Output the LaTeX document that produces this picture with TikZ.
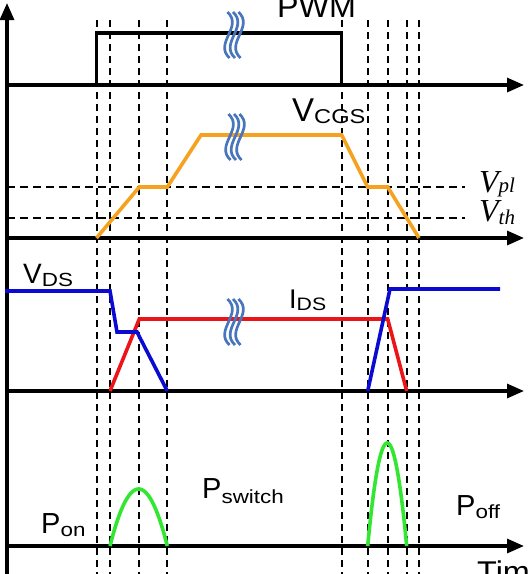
\documentclass[tikz,border=0pt]{standalone}
\usepackage{graphicx}
\usepackage{fontspec}
\setmainfont{Liberation Sans}
\newfontfamily\serifit{Liberation Serif}
\usetikzlibrary{arrows.meta}
\definecolor{cOrange}{RGB}{245,162,32}
\definecolor{cBlue}{RGB}{10,10,210}
\definecolor{cRed}{RGB}{235,20,25}
\definecolor{cGreen}{RGB}{50,230,50}
\definecolor{cWave}{RGB}{72,118,188}
\newcommand\fs[1]{\fontsize{#1}{#1}\selectfont}
\newcommand\subtxt[3]{\raisebox{#1}{\scalebox{1.18}[1]{\fs{#2}#3}}}
\newcommand\breakwave[2]{%
  \foreach \d in {-5.5,0,5.5}{%
    \draw[wavestroke] ({#1+\d-1},{#2-23}) .. controls ({#1+\d+15},{#2-8}) and ({#1+\d-15},{#2+8}) .. ({#1+\d+1},{#2+23});}}
\begin{document}
\begin{tikzpicture}[x=1pt,y=-1pt,
  axis/.style={line width=3.2pt,-{Triangle[length=17pt,width=14pt]}},
  guide/.style={line width=2pt,dash pattern=on 7pt off 5pt},
  level/.style={line width=1.4pt,dash pattern=on 8pt off 5pt},
  sigline/.style={line width=3.6pt},
  wavestroke/.style={line width=2.7pt,cWave},
  lbl/.style={anchor=base west,inner sep=0pt}]
\useasboundingbox (0,0) rectangle (528,574);
% vertical guides
\foreach \x in {96.5,110,139.3,167.3,341.7,367.7,387.7,406.7,419}
  \draw[guide] (\x,20) -- (\x,580);
% level lines
\draw[level] (7,187) -- (465,187);
\draw[level] (7,218) -- (465,218);
% axes
\draw[axis] (7,580) -- (7,3);
\foreach \y in {85,238,391,546}
  \draw[axis] (5,\y) -- (524,\y);
% PWM
\draw[line width=3.2pt,line join=miter] (96.5,85) -- (96.5,33) -- (341.7,33) -- (341.7,85);
% VCGS
\draw[sigline,cOrange] (96.5,238) -- (139.3,187) -- (167.3,187) -- (201,135) -- (341.7,135) -- (367.7,187) -- (387.7,187) -- (419,238);
% IDS
\draw[sigline,cRed] (110,391) -- (139.3,319) -- (387.7,319) -- (406.7,391);
% VDS
\draw[sigline,cBlue] (5,291) -- (110,291) -- (117,332) -- (137,332) -- (167.3,391);
\draw[sigline,cBlue] (367.7,391) -- (390,289) -- (500,289);
% power
\draw[sigline,cGreen] plot[domain=110:167.3,samples=50] (\x,{546-57*(1-((\x-138.65)/28.65)^2)});
\draw[sigline,cGreen] plot[domain=367.7:406.7,samples=50] (\x,{546-103*(1-((\x-387.2)/19.5)^2)});
% break marks
\breakwave{234}{35}
\breakwave{235}{137}
\breakwave{234}{322}
% labels
\node[lbl] (pwm) at (277,17) {\scalebox{1.04}[1]{\fs{31}PWM}};
\node[lbl] (vcgs) at (292,121) {\fs{33}V\subtxt{-2pt}{20}{CGS}};
\node[lbl] (vds) at (23,283) {\fs{28}V\subtxt{-3pt}{19}{DS}};
\node[lbl] (ids) at (289,308) {\fs{27}I\subtxt{-2pt}{18}{DS}};
\node[lbl] (vpl) at (479,192) {\serifit\itshape\fs{32}V\fs{21}pl};
\node[lbl] (vth) at (479,221) {\serifit\itshape\fs{32}V\raisebox{-3pt}{\fs{21}th}};
\node[lbl] (pon) at (41,533) {\fs{29}P\subtxt{-3pt}{19}{on}};
\node[lbl] (psw) at (202,498) {\fs{29}P\subtxt{-5pt}{19}{switch}};
\node[lbl] (poff) at (456,515) {\fs{29}P\subtxt{-3pt}{19}{off}};
\node[lbl] (time) at (477,582) {\scalebox{1.08}[1]{\fs{30}Time}};
\end{tikzpicture}
\end{document}
